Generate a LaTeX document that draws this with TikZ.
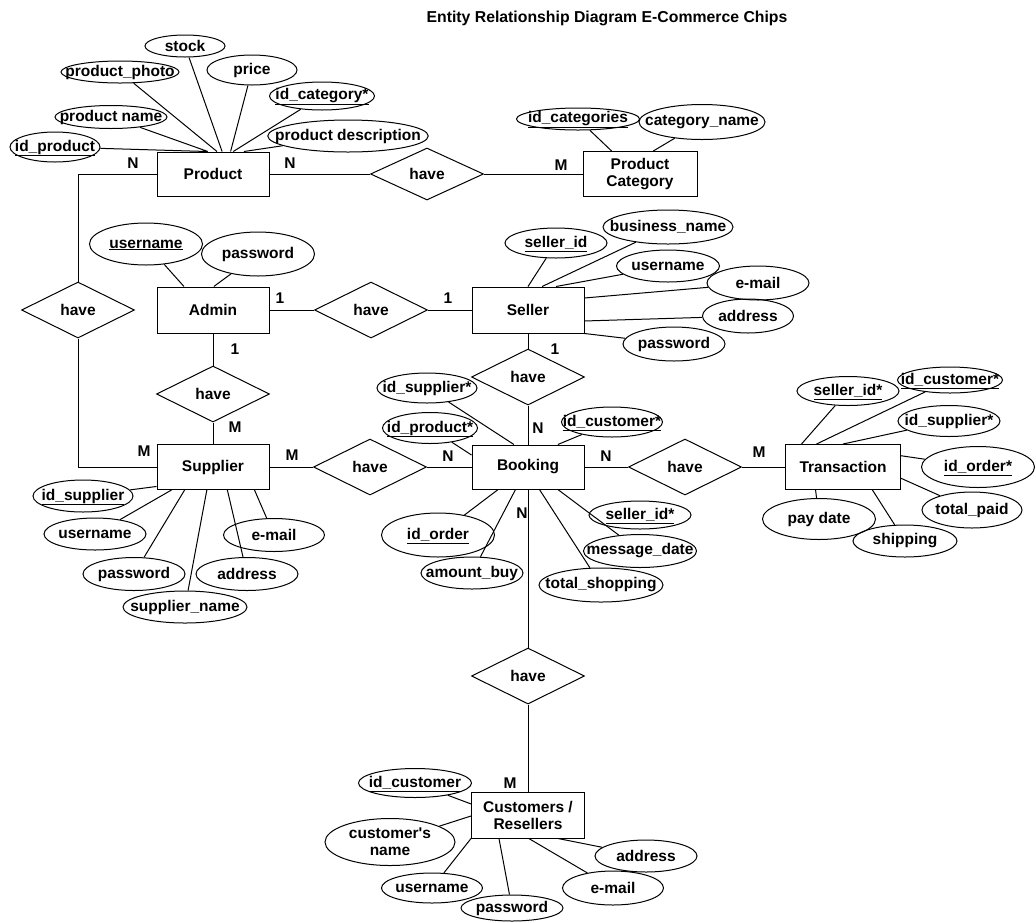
\documentclass[tikz,border=0pt]{standalone}
\usepackage{fontspec}
\setmainfont{Liberation Sans}
\usetikzlibrary{shapes.geometric}

\newcommand{\ukey}[1]{\smash{\underline{#1}}\vphantom{#1}}

\tikzset{
	every node/.style={font=\bfseries\fontsize{15.5}{17}\selectfont},
	entity/.style={draw, rectangle, inner sep=0pt, minimum width=112, minimum height=45, align=center},
	rel/.style={draw, diamond, inner sep=0pt, minimum width=113, minimum height=56},
	attr/.style={draw, ellipse, inner xsep=-16pt, inner ysep=-2pt, minimum width=102, minimum height=30, align=center},
	card/.style={inner sep=0pt},
}

\begin{document}
\begin{tikzpicture}[x=1pt, y=-1pt, line width=1pt]
	\useasboundingbox (0,0) rectangle (1036,922);
	\node[font=\bfseries\fontsize{15.8}{17}\selectfont] (title) at (607,18) {Entity Relationship Diagram E-Commerce Chips};
	
	% entities
	\node[entity, minimum height=44] (product) at (213,174) {Product};
	\node[entity, minimum width=114] (prodcat) at (640,174) {Product\\Category};
	\node[entity, minimum height=46] (admin) at (213,310) {Admin};
	\node[entity, minimum height=46] (seller) at (528,310) {Seller};
	\node[entity] (supplier) at (213,467) {Supplier};
	\node[entity, minimum height=44] (booking) at (528,467) {Booking};
	\node[entity, minimum width=115] (transaction) at (843,467) {Transaction};
	\node[entity, minimum width=113, minimum height=46] (customers) at (528,815) {Customers /\\Resellers};
	
	% relations
	\node[rel, minimum height=52] (haveprod) at (427,174) {have};
	\node[rel] (haveleft) at (78,310) {have};
	\node[rel] (haveas) at (371,310) {have};
	\node[rel] (haveasup) at (213,394) {have};
	\node[rel] (havesb) at (528,377) {have};
	\node[rel] (havesupb) at (370,467) {have};
	\node[rel] (havebt) at (685,467) {have};
	\node[rel] (havebc) at (528,676) {have};
	
	\draw (product.east) -- (haveprod.west) (haveprod.east) -- (prodcat.west);
	\draw (product.west) -| (haveleft.north);
	\draw (haveleft.south) |- (supplier.west);
	\draw (admin.east) -- (haveas.west) (haveas.east) -- (seller.west);
	\draw (admin.south) -- (haveasup.north) (haveasup.south) -- (supplier.north);
	\draw (seller.south) -- (havesb.north) (havesb.south) -- (booking.north);
	\draw (supplier.east) -- (havesupb.west) (havesupb.east) -- (booking.west);
	\draw (booking.east) -- (havebt.west) (havebt.east) -- (transaction.west);
	\draw (booking.south) -- (havebc.north) (havebc.south) -- (customers.north);
	
	% cardinalities
	\node[card] (c1) at (133,163) {N};
	\node[card] (c2) at (290,163) {N};
	\node[card] (c3) at (561,165) {M};
	\node[card] (c4) at (280,298) {1};
	\node[card] (c5) at (448,298) {1};
	\node[card] (c6) at (235,349) {1};
	\node[card] (c7) at (235,427) {M};
	\node[card] (c8) at (555,349) {1};
	\node[card] (c9) at (538,428) {N};
	\node[card] (c10) at (144,451) {M};
	\node[card] (c11) at (292,455) {M};
	\node[card] (c12) at (448,456) {N};
	\node[card] (c13) at (606,456) {N};
	\node[card] (c14) at (759,452) {M};
	\node[card] (c15) at (522,513) {N};
	\node[card] (c16) at (510,783) {M};
	
	% product attributes
	\node[attr, minimum width=90] (idproduct) at (55,147) {\ukey{id\_product}};
	\node[attr, minimum width=112, minimum height=23] (pname) at (111,117) {product name};
	\node[attr, minimum width=118, minimum height=22] (pphoto) at (120,72) {product\_photo};
	\node[attr, minimum width=80, minimum height=22] (stock) at (185,46) {stock};
	\node[attr, minimum width=90] (price) at (252,70) {price};
	\node[attr, minimum width=105, minimum height=28] (idcat) at (322,96) {\ukey{id\_category*}};
	\node[attr, minimum width=158, minimum height=32] (pdesc) at (348,136) {product description};
	\draw (idproduct) -- (product.105) (pname) -- (product.103) (pphoto) -- (product.80)
		(stock) -- (product.68) (price) -- (product.52) (idcat) -- (product.48) (pdesc) -- (product.36);
	
	\node[attr, minimum width=123, minimum height=22] (idcats) at (578,119) {\ukey{id\_categories}};
	\node[attr, minimum width=126, minimum height=35] (catname) at (702,122) {category\_name};
	\draw (idcats) -- (prodcat.141) (catname) -- (prodcat.60);
	
	% admin attributes
	\node[attr, minimum width=113, minimum height=42] (uname) at (146,244) {\ukey{username}};
	\node[attr, minimum width=113, minimum height=44] (apass) at (258,254) {password};
	\draw (uname) -- (admin.141) (apass) -- (admin.88);
	
	% seller attributes
	\node[attr] (sid) at (556,243) {\ukey{seller\_id}};
	\node[attr, minimum width=130, minimum height=34] (bname) at (668,227) {business\_name};
	\node[attr, minimum width=103, minimum height=32] (suname) at (668,266) {username};
	\node[attr, minimum height=34] (semail) at (758,283) {e-mail};
	\node[attr, minimum width=91, minimum height=34] (saddr) at (748,316) {address};
	\node[attr, minimum height=34] (spass) at (674,344) {password};
	\draw (sid) -- (seller.90) (bname) -- (seller.59) (suname) -- (seller.40)
		(semail) -- (seller.12) (saddr) -- (seller.-11) (spass) -- (seller.south east);
	
	% booking attributes
	\node[attr, minimum width=100] (bidsup) at (427,388) {id\_supplier*};
	\node[attr, minimum width=95, minimum height=31] (bidprod) at (430,428) {\ukey{id\_product*}};
	\node[attr, minimum width=101] (bidcust) at (612,422) {\ukey{id\_customer*}};
	\node[attr, minimum height=28] (bsid) at (640,515) {\ukey{seller\_id*}};
	\node[attr, minimum width=113, minimum height=44] (bidorder) at (438,535) {\ukey{id\_order}};
	\node[attr, minimum height=32] (bamount) at (472,573) {amount\_buy};
	\node[attr, minimum width=124, minimum height=34] (btotal) at (601,585) {total\_shopping};
	\node[attr, minimum width=113, minimum height=33] (bmsg) at (640,551) {message\_date};
	\draw (bidsup) -- (booking.122) (bidprod) -- (booking.168) (bidcust) -- (booking.37)
		(bidorder) -- (booking.217) (bamount) -- (booking.241) (btotal) -- (booking.-63) (bmsg) -- (booking.-37);
	
	% transaction attributes
	\node[attr, minimum height=29] (tsid) at (848,391) {\ukey{seller\_id*}};
	\node[attr, minimum width=105, minimum height=26] (tidcust) at (950,380) {\ukey{id\_customer*}};
	\node[attr, minimum height=31] (tidsup) at (949,421) {id\_supplier*};
	\node[attr, minimum width=113, minimum height=41] (tidorder) at (978,467) {\ukey{id\_order*}};
	\node[attr, minimum width=100, minimum height=36] (ttotal) at (972,510) {total\_paid};
	\node[attr, minimum width=104, minimum height=32] (tship) at (905,541) {shipping};
	\node[attr, minimum width=113, minimum height=41] (tpay) at (819,519) {pay date};
	\draw (tsid) -- (transaction.151) (tidcust) -- (transaction.139) (tidsup) -- (transaction.90)
		(tidorder) -- (transaction.11) (ttotal) -- (transaction.-11) (tship) -- (transaction.-38) (tpay) -- (transaction.-140);
	
	% supplier attributes
	\node[attr, minimum width=100, minimum height=32] (supid) at (83,496) {\ukey{id\_supplier}};
	\node[attr, minimum height=32] (supuname) at (95,534) {username};
	\node[attr, minimum height=33] (suppass) at (134,574) {password};
	\node[attr, minimum width=124, minimum height=32] (supname) at (185,607) {supplier\_name};
	\node[attr, minimum height=33] (supaddr) at (247,574) {address};
	\node[attr, minimum width=101, minimum height=33] (supemail) at (274,535) {e-mail};
	\draw (supid) -- (supplier.199) (supuname) -- (supplier.209) (suppass) -- (supplier.219)
		(supname) -- (supplier.255) (supaddr) -- (supplier.-58) (supemail) -- (supplier.-29);
	
	% customer attributes
	\node[attr, minimum width=113, minimum height=29] (cid) at (415,783) {\ukey{id\_customer}};
	\node[attr, minimum width=130, minimum height=47] (cname) at (390,842) {customer{\addfontfeatures{Ligatures=TeXOff}'}s\\name};
	\node[attr, minimum width=101] (cuname) at (432,888) {username};
	\node[attr, minimum height=26] (cpass) at (512,908) {password};
	\node[attr, minimum width=101, minimum height=34] (cemail) at (613,888) {e-mail};
	\node[attr, minimum height=32] (caddr) at (646,856) {address};
	\draw (cid) -- (customers.169) (cname) -- (customers.181) (cuname) -- (customers.south west)
		(cpass) -- (customers.219) (cemail) -- (customers.-88) (caddr) -- (customers.-38);
\end{tikzpicture}
\end{document}
